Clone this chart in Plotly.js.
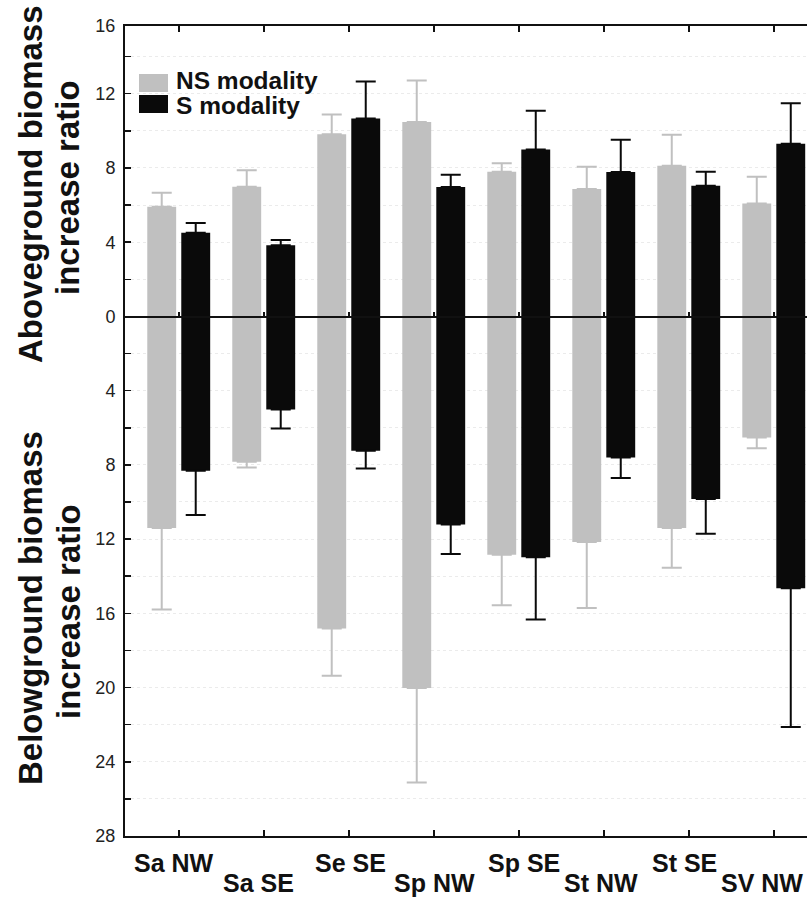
<!DOCTYPE html>
<html><head><meta charset="utf-8">
<script src="https://cdn.plot.ly/plotly-3.0.1.min.js"></script>
<style>html,body{margin:0;padding:0;background:#fff;} #chart{width:807px;height:898px;}</style>
</head><body><div id="chart"></div>
<script>
// ---- data ----
const categories = ['Sa NW','Sa SE','Se SE','Sp NW','Sp SE','St NW','St SE','SV NW'];
const aboveNS    = [5.91, 6.99, 9.81, 10.47, 7.79, 6.86, 8.12, 6.09];
const aboveNSErr = [0.75, 0.89, 1.07, 2.24, 0.47, 1.20, 1.67, 1.43];
const aboveS     = [4.51, 3.83, 10.67, 6.97, 9.00, 7.78, 7.04, 9.30];
const aboveSErr  = [0.52, 0.29, 1.99, 0.66, 2.08, 1.74, 0.75, 2.19];
const belowNS    = [11.40, 7.83, 16.82, 20.03, 12.84, 12.15, 11.40, 6.52];
const belowNSErr = [4.40, 0.31, 2.55, 5.09, 2.72, 3.56, 2.14, 0.58];
const belowS     = [8.32, 5.01, 7.24, 11.22, 12.98, 7.60, 9.84, 14.65];
const belowSErr  = [2.38, 1.03, 0.95, 1.58, 3.35, 1.11, 1.87, 7.48];
const seriesNames = ['NS modality', 'S modality'];
const yTickVals = [15.65, 12, 8, 4, 0, -4, -8, -12, -16, -20, -24, -28];
const yTickText = ['16','12','8','4','0','4','8','12','16','20','24','28'];
const titleAbove = ['Aboveground biomass', 'increase ratio'];
const titleBelow = ['Belowground biomass', 'increase ratio'];

// ---- style / layout ----
const GRAY = '#c0c0c0', BLACK = '#0a0a0a', AX = '#111111';
const FONT = 'Liberation Sans, Arial, Helvetica, sans-serif';
const L = 125, T = 26, W = 807, H = 898, PW = W - L, PB = 836, PH = PB - T;
const fx = px => (px - L) / PW;
const fy = py => (PB - py) / PH;
const BW = 0.34, OFF_NS = -0.373, OFF_S = 0.027;
const xRange = [-0.635, 7.388];
const labelShift = [-5, -5, 2, 0, 5, -3, -5, -12];

function barTrace(vals, errs, color, off, neg, xa) {
  return {
    type: 'bar', x: categories, y: vals.map(v => neg ? -v : v),
    width: BW, offset: off, xaxis: xa, yaxis: 'y',
    marker: {color: color, line: {width: 0}},
    error_y: {type: 'data', symmetric: false,
      array: neg ? errs.map(() => 0) : errs,
      arrayminus: neg ? errs : errs.map(() => 0),
      color: color, thickness: 2, width: 10},
    showlegend: false, hoverinfo: 'skip'
  };
}

const data = [
  barTrace(aboveNS, aboveNSErr, GRAY, OFF_NS, false, 'x'),
  barTrace(aboveS, aboveSErr, BLACK, OFF_S, false, 'x'),
  barTrace(belowNS, belowNSErr, GRAY, OFF_NS, true, 'x2'),
  barTrace(belowS, belowSErr, BLACK, OFF_S, true, 'x2')
];

const annotations = [];
categories.forEach((c, i) => {
  annotations.push({xref: 'x', yref: 'paper', x: c, y: fy(i % 2 ? 883 : 863),
    xanchor: 'center', yanchor: 'middle', xshift: labelShift[i], showarrow: false, text: c,
    font: {family: FONT, size: 25, weight: 'bold', color: AX}});
});
function titleAnn(text, cx, cy) {
  return {xref: 'paper', yref: 'paper', x: fx(cx), y: fy(cy), xanchor: 'center', yanchor: 'middle',
    textangle: -90, showarrow: false, text: text,
    font: {family: FONT, size: 33, weight: 'bold', color: AX}};
}
annotations.push(titleAnn(titleAbove[0], 30, 184));
annotations.push(titleAnn(titleAbove[1], 68, 188));
annotations.push(titleAnn(titleBelow[0], 30, 608));
annotations.push(titleAnn(titleBelow[1], 68, 612));
// legend texts
annotations.push({xref: 'paper', yref: 'paper', x: fx(174), y: fy(81), xanchor: 'left', yanchor: 'middle',
  showarrow: false, text: seriesNames[0], font: {family: FONT, size: 24.5, weight: 'bold', color: AX}});
annotations.push({xref: 'paper', yref: 'paper', x: fx(174), y: fy(105), xanchor: 'left', yanchor: 'middle',
  showarrow: false, text: seriesNames[1], font: {family: FONT, size: 24.5, weight: 'bold', color: AX}});

const shapes = [
  {type: 'rect', xref: 'paper', yref: 'paper', x0: fx(139), x1: fx(168), y0: fy(92), y1: fy(74),
   fillcolor: GRAY, line: {width: 0}},
  {type: 'rect', xref: 'paper', yref: 'paper', x0: fx(139), x1: fx(168), y0: fy(113), y1: fy(95),
   fillcolor: BLACK, line: {width: 0}}
];

const layout = {
  width: W, height: H,
  margin: {l: L, r: 0, t: T, b: H - PB, pad: 0},
  paper_bgcolor: '#ffffff', plot_bgcolor: '#ffffff',
  barmode: 'overlay', showlegend: false,
  font: {family: FONT, color: AX},
  xaxis: {type: 'category', categoryorder: 'array', categoryarray: categories, range: xRange,
    tickmode: 'array', tickvals: categories, showticklabels: false,
    ticks: 'inside', ticklen: 6, tickwidth: 1.5, tickcolor: AX,
    showline: true, linecolor: AX, linewidth: 2, mirror: 'ticks',
    showgrid: false, zeroline: false, fixedrange: true},
  xaxis2: {type: 'category', categoryorder: 'array', categoryarray: categories, range: xRange,
    overlaying: 'x', anchor: 'free', position: fy(316.5), side: 'bottom',
    tickmode: 'array', tickvals: categories, showticklabels: false,
    ticks: 'inside', ticklen: 4, tickwidth: 1.5, tickcolor: AX,
    showline: true, linecolor: AX, linewidth: 2,
    showgrid: false, zeroline: false, layer: 'above traces', fixedrange: true},
  yaxis: {range: [-28, 15.65], tickmode: 'array', tickvals: yTickVals, ticktext: yTickText,
    ticks: 'inside', ticklen: 6, tickwidth: 1.5, tickcolor: AX,
    tickfont: {family: FONT, size: 18, color: '#222'}, ticklabelstandoff: 4,
    showline: true, linecolor: AX, linewidth: 2,
    showgrid: true, gridcolor: '#ebebeb', griddash: 'dot', gridwidth: 1,
    minor: {tickmode: 'linear', tick0: 0, dtick: 2, ticks: 'inside', ticklen: 6, tickwidth: 1.5,
      tickcolor: AX, showgrid: true, gridcolor: '#ebebeb', griddash: 'dot', gridwidth: 1},
    zeroline: false, fixedrange: true},
  annotations: annotations,
  shapes: shapes
};

Plotly.newPlot('chart', data, layout, {staticPlot: true, displayModeBar: false});
</script>
</body></html>
